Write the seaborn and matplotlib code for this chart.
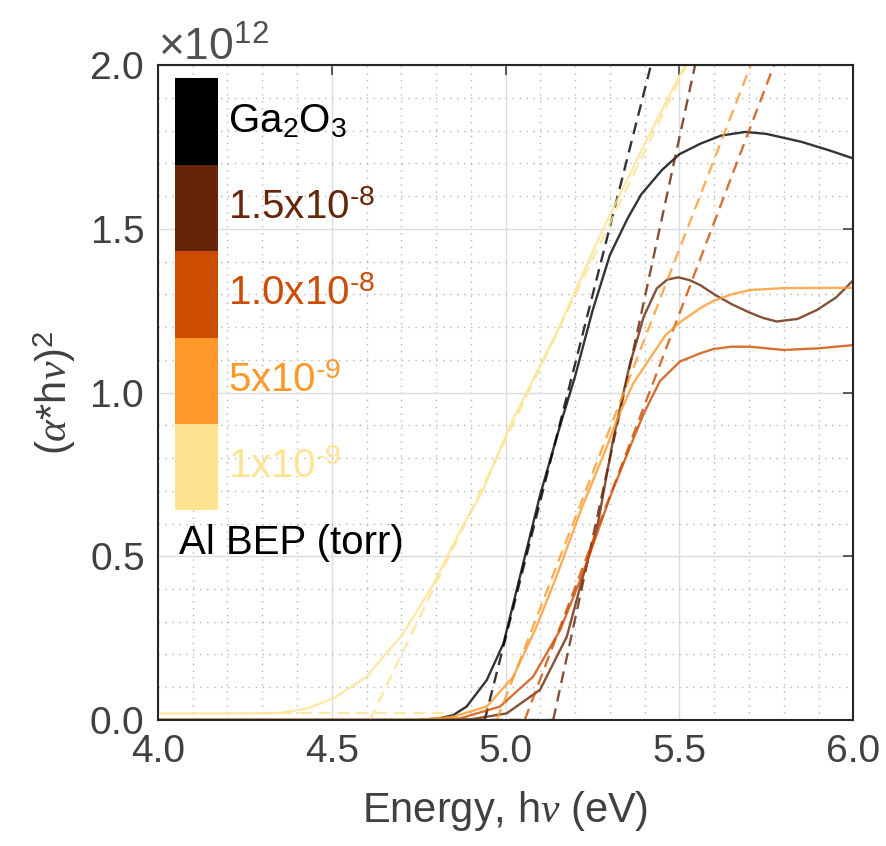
import numpy as np
import matplotlib
matplotlib.use("Agg")
import matplotlib.pyplot as plt
from matplotlib.patches import Rectangle
from matplotlib.ticker import MultipleLocator, ScalarFormatter, FormatStrFormatter
import seaborn as sns

SCALE = 1e12

# Tauc curves, y in units of 1e12
e_ga2o3 = [4.0, 4.75, 4.81, 4.85, 4.888, 4.946, 4.994, 5.046, 5.10, 5.157, 5.20, 5.25, 5.30,
           5.35, 5.39, 5.45, 5.50, 5.56, 5.62, 5.69, 5.75, 5.85, 5.93, 6.0]
y_ga2o3 = [0.0, 0.0, 0.005, 0.015, 0.041, 0.122, 0.234, 0.458, 0.69, 0.90, 1.05, 1.25, 1.42,
           1.53, 1.605, 1.68, 1.728, 1.76, 1.785, 1.796, 1.79, 1.766, 1.74, 1.715]

e_15e8 = [4.0, 4.82, 4.90, 5.003, 5.099, 5.176, 5.223, 5.262, 5.31, 5.339, 5.358, 5.378, 5.397,
          5.435, 5.465, 5.497, 5.53, 5.56, 5.60, 5.65, 5.70, 5.74, 5.78, 5.84, 5.895, 5.95, 6.0]
y_15e8 = [0.0, 0.0, 0.002, 0.02, 0.092, 0.254, 0.44, 0.58, 0.86, 1.0, 1.089, 1.16, 1.231,
          1.318, 1.345, 1.352, 1.343, 1.328, 1.30, 1.27, 1.245, 1.228, 1.217, 1.225, 1.252, 1.29, 1.343]

e_10e8 = [4.0, 4.78, 4.87, 4.984, 5.079, 5.157, 5.223, 5.30, 5.358, 5.397, 5.444, 5.502, 5.56,
          5.598, 5.65, 5.703, 5.80, 5.90, 6.0]
y_10e8 = [0.0, 0.0, 0.005, 0.041, 0.132, 0.275, 0.45, 0.68, 0.834, 0.935, 1.035, 1.095, 1.12,
          1.133, 1.14, 1.14, 1.13, 1.135, 1.145]

e_5e9 = [4.0, 4.75, 4.85, 4.946, 5.022, 5.089, 5.147, 5.22, 5.291, 5.32, 5.367, 5.425, 5.46,
         5.502, 5.56, 5.598, 5.65, 5.703, 5.80, 6.0]
y_5e9 = [0.0, 0.0, 0.01, 0.041, 0.132, 0.285, 0.44, 0.65, 0.834, 0.916, 1.028, 1.12, 1.175,
         1.215, 1.258, 1.28, 1.30, 1.313, 1.319, 1.32]

e_1e9 = [4.0, 4.2, 4.35, 4.43, 4.505, 4.60, 4.706, 4.79, 4.88, 4.93, 5.02, 5.07, 5.15, 5.27,
         5.40, 5.516, 5.56]
y_1e9 = [0.02, 0.02, 0.021, 0.035, 0.066, 0.132, 0.265, 0.41, 0.60, 0.69, 0.916, 1.02, 1.19,
         1.476, 1.76, 2.0, 2.1]

labels = ["Ga$_2$O$_3$", r"1.5x10$^{\text{-8}}$", r"1.0x10$^{\text{-8}}$",
          r"5x10$^{\text{-9}}$", r"1x10$^{\text{-9}}$"]
colors = ["#000000", "#662506", "#cc4c02", "#fe9929", "#fee391"]
curves_e = [e_ga2o3, e_15e8, e_10e8, e_5e9, e_1e9]
curves_y = [y_ga2o3, y_15e8, y_10e8, y_5e9, y_1e9]

# linear fits: energy where fit hits y=0 and y=2.0 (x1e12)
fit_e_zero = [4.94, 5.137, 5.055, 4.975, 4.61]
fit_e_top = [5.418, 5.545, 5.772, 5.705, 5.52]
fit_y = [0.0, 2.0]
# baseline fits
base_start = [4.75, 4.90, 4.85, 4.80, 4.30]
base_end = [4.94, 5.137, 5.055, 4.975, 4.85]
base_level = [0.0, 0.0, 0.0, 0.0, 0.02]

sns.set_theme(style="white")
plt.rcParams["font.family"] = ["Liberation Sans", "DejaVu Sans"]
plt.rcParams["mathtext.fontset"] = "custom"
plt.rcParams["mathtext.rm"] = "Liberation Sans"
plt.rcParams["mathtext.it"] = "Liberation Serif:italic"
plt.rcParams["mathtext.bf"] = "Liberation Sans:bold"

fig = plt.figure(figsize=(8.87, 8.46), dpi=100)
ax = fig.add_axes([0.178, 0.149, 0.784, 0.774])

dash = (0, (5, 3))
for i in range(len(labels)):
    sns.lineplot(x=curves_e[i], y=np.array(curves_y[i]) * SCALE, color=colors[i], lw=1.7,
                 alpha=0.8, ax=ax, sort=False, estimator=None)
    sns.lineplot(x=[fit_e_zero[i], fit_e_top[i]], y=np.array(fit_y) * SCALE, color=colors[i],
                 lw=1.7, alpha=0.8, linestyle=dash, ax=ax, sort=False, estimator=None)
    sns.lineplot(x=[base_start[i], base_end[i]], y=np.array([base_level[i]] * 2) * SCALE,
                 color=colors[i], lw=1.7, alpha=0.8, linestyle=dash, ax=ax, sort=False,
                 estimator=None)

ax.set_xlim(4.0, 6.0)
ax.set_ylim(0, 2.0 * SCALE)
ax.xaxis.set_major_locator(MultipleLocator(0.5))
ax.xaxis.set_minor_locator(MultipleLocator(0.1))
ax.yaxis.set_major_locator(MultipleLocator(0.5 * SCALE))
ax.yaxis.set_minor_locator(MultipleLocator(0.1 * SCALE))
ax.xaxis.set_major_formatter(FormatStrFormatter("%.1f"))
fmt = ScalarFormatter(useMathText=True)
fmt.set_powerlimits((0, 0))
ax.yaxis.set_major_formatter(fmt)

ax.grid(True, which="major", color="#dcdcdc", lw=1.0, ls="-")
ax.grid(True, which="minor", color="#b5b5b5", lw=1.0, ls=(0, (1, 4)))
ax.set_axisbelow(True)

ax.tick_params(which="major", direction="in", length=7, width=1.2, top=True, right=True,
               labelsize=28, colors="#404040", pad=10)
ax.tick_params(which="minor", length=0)
for s in ax.spines.values():
    s.set_color("#262626")
    s.set_linewidth(1.5)

off = ax.yaxis.get_offset_text()
off.set_fontsize(32)
off.set_color("#505050")

ax.set_xlabel(r"Energy, h$\nu$ (eV)", fontsize=30, color="#404040", labelpad=14)
ax.set_ylabel(r"($\alpha$*h$\nu$)$^2$", fontsize=30, color="#404040", labelpad=8)

# colour key
x0, w, top, h = 0.0245, 0.062, 0.980, 0.132
for i, lab in enumerate(labels):
    ax.add_patch(Rectangle((x0, top - (i + 1) * h), w, h, transform=ax.transAxes,
                           facecolor=colors[i], edgecolor="none", zorder=5))
    ax.text(0.1007, top - (i + 0.5) * h, lab, transform=ax.transAxes, fontsize=29,
            color=colors[i], va="center", ha="left", zorder=6)
ax.text(0.03, top - 5 * h - 0.05, "Al BEP (torr)", transform=ax.transAxes, fontsize=29,
        color="black", va="center", ha="left", zorder=6)

plt.savefig("out.png", dpi=100)
